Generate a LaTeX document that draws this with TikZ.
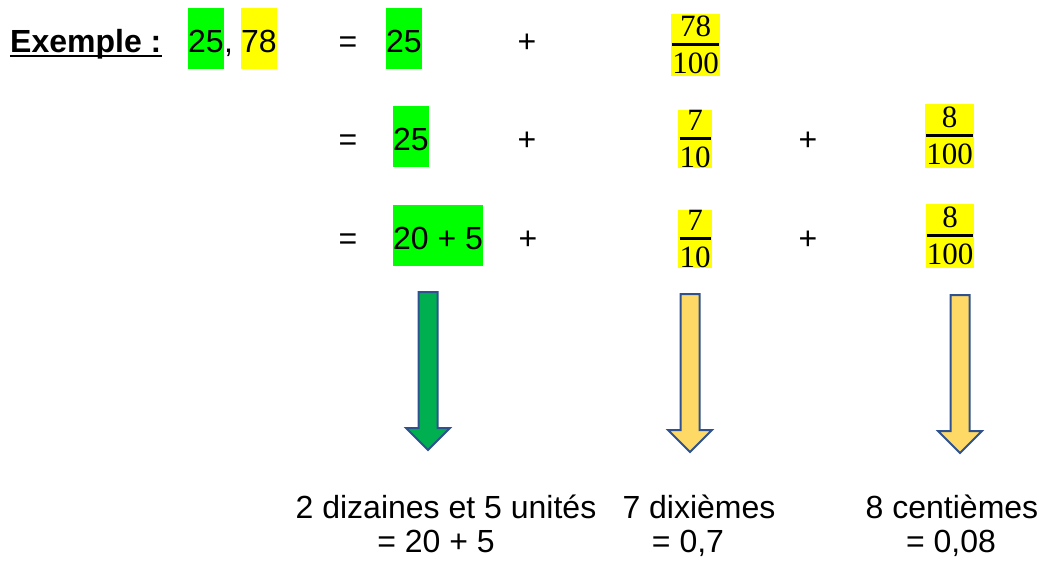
\documentclass[tikz,border=0pt]{standalone}
\usepackage{amsmath}
\usepackage{fontspec}
\setmainfont{Liberation Sans}
\newfontfamily\fracfont{Liberation Serif}
\usepackage{tikz}

\definecolor{hlgreen}{RGB}{0,255,0}
\definecolor{hlyellow}{RGB}{255,255,0}
\definecolor{arrgreen}{RGB}{0,176,80}
\definecolor{arryellow}{RGB}{255,217,102}
\definecolor{arrblue}{RGB}{47,82,143}

\newcommand{\dfr}[2]{$\genfrac{}{}{3pt}{1}{\hbox{\fracfont #1\rule[-3pt]{0pt}{3pt}}}{\hbox{\fracfont\rule{0pt}{25pt}#2}}$}

\begin{document}
\begin{tikzpicture}[x = 1pt, y = -1pt,
        txt/.style = {font=\fontsize{32}{38}\selectfont, inner sep=0, anchor=base},
        hlg/.style = {txt, anchor=base west, fill=hlgreen, text height=44pt, text depth=17pt},
        hly/.style = {hlg, fill=hlyellow},
        fry/.style = {font=\fontsize{31}{36}\selectfont, inner sep=0, fill=hlyellow},
        fatarrow/.style = {draw=arrblue, line width=2pt, line join=miter}]
        \useasboundingbox (0,0) rectangle (1044,560);

        % ligne 1
        \node (ex) [txt, anchor=base west, font=\fontsize{32}{38}\selectfont\bfseries] at (10,52) {Exemple :};
        \draw[line width=2.6pt] ([yshift=-4pt]ex.base west) -- ([yshift=-4pt]ex.base east);
        \node (ent) [hlg] at (188,52) {25};
        \node (virg) [txt, anchor=base west] at (ent.base east) {,};
        \node (dec) [hly] at (241,52) {78};
        \node (eq1) [txt] at (348,52) {=};
        \node (ent1) [hlg] at (386,52) {25};
        \node (pl1) [txt] at (527,52) {+};
        \node (f78) [fry, minimum width=45pt, minimum height=62pt] at (695.5,45) {\dfr{78}{100}};

        % ligne 2
        \node (eq2) [txt] at (348,150) {=};
        \node (ent2) [hlg] at (393,150) {25};
        \node (pl2) [txt] at (527,150) {+};
        \node (f7a) [fry, minimum width=30pt, minimum height=54pt] at (695,139) {\dfr{7}{10}};
        \node (pl3) [txt] at (808,150) {+};
        \node (f8a) [fry, minimum width=47pt, minimum height=64pt] at (949.5,136) {\dfr{8}{100}};

        % ligne 3
        \node (eq3) [txt] at (348,249) {=};
        \node (ent3) [hlg] at (393,249) {20 + 5};
        \node (pl4) [txt] at (528,249) {+};
        \node (f7b) [fry, minimum width=30pt, minimum height=54pt] at (695,239) {\dfr{7}{10}};
        \node (pl5) [txt] at (808,249) {+};
        \node (f8b) [fry, minimum width=47pt, minimum height=64pt] at (950,236) {\dfr{8}{100}};

        % fleches
        \foreach \x/\t/\c in {428/292/arrgreen, 690/294/arryellow, 960/295/arryellow}
            \draw[fatarrow, fill=\c] (\x-9.5,\t) -- (\x+9.5,\t) -- (\x+9.5,\t+136) -- (\x+22,\t+136)
                -- (\x,\t+158) -- (\x-22,\t+136) -- (\x-9.5,\t+136) -- cycle;

        % explications
        \node (diz) [txt] at (446,518) {2 dizaines et 5 unités};
        \node (diz2) [txt] at (436,552) {= 20 + 5};
        \node (dix) [txt] at (699,518) {7 dixièmes};
        \node (dix2) [txt] at (688,552) {= 0,7};
        \node (cen) [txt] at (952,518) {8 centièmes};
        \node (cen2) [txt] at (951,552) {= 0,08};
    \end{tikzpicture}
\end{document}
